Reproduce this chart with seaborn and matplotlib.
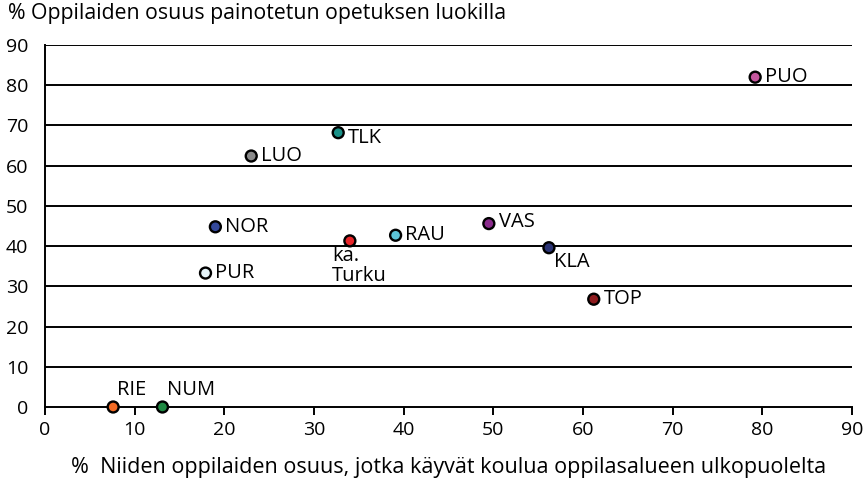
import matplotlib
matplotlib.use("Agg")
import matplotlib.pyplot as plt
import seaborn as sns
import pandas as pd

labels = ["PUO", "TLK", "LUO", "NOR", "ka.\nTurku", "RAU", "PUR", "VAS", "KLA", "TOP", "RIE", "NUM"]
x_vals = [79.2, 32.7, 23.0, 19.0, 34.0, 39.1, 17.9, 49.5, 56.2, 61.2, 7.6, 13.1]
y_vals = [82.0, 68.2, 62.4, 44.8, 41.3, 42.7, 33.3, 45.6, 39.6, 26.8, 0.0, 0.0]
colors = ["#c4579e", "#1a9188", "#8a8a8a", "#34499c", "#e8262a", "#5cc3d6",
          "#e4f3f8", "#8a2b8c", "#2b3475", "#8e1b1e", "#f26a24", "#1f8a43"]
# label offsets (points) and alignment
offsets = [(7, 0, "left", "center"), (7, -3.5, "left", "center"), (7, 0, "left", "center"),
           (7, 0, "left", "center"), (-13, -4, "left", "top"), (7, 0, "left", "center"),
           (7, 0, "left", "center"), (7, 1.5, "left", "center"), (4, -3, "left", "top"),
           (7, 0, "left", "center"), (3, 5, "left", "bottom"), (3, 5, "left", "bottom")]

xticks = list(range(0, 91, 10))
yticks = list(range(0, 91, 10))

df = pd.DataFrame({"x": x_vals, "y": y_vals, "label": labels})

sns.set_theme(style="white")
plt.rcParams["font.family"] = ["Open Sans", "DejaVu Sans"]

W, H = 863, 484
fig = plt.figure(figsize=(W / 100, H / 100), dpi=100)
ax = fig.add_axes([45 / W, 1 - 407 / H, (852 - 45) / W, (407 - 45) / H])

for yt in yticks[1:]:
    ax.axhline(yt, color="black", lw=1.4, zorder=1)

sns.scatterplot(data=df, x="x", y="y", hue="label", palette=dict(zip(labels, colors)),
                s=62, edgecolor="black", linewidth=1.7, legend=False, ax=ax, zorder=3, clip_on=False)

for lab, xv, yv, (dx, dy, ha, va) in zip(labels, x_vals, y_vals, offsets):
    ax.annotate(lab, (xv, yv), xytext=(dx, dy), textcoords="offset points",
                ha=ha, va=va, fontsize=14.5, color="black", linespacing=1.0)

ax.set_xlim(0, 90)
ax.set_ylim(0, 90)
ax.set_xticks(xticks)
ax.set_yticks(yticks)
ax.tick_params(axis="x", labelsize=14, colors="black", direction="out", length=6, width=1.4,
               bottom=True, pad=4)
ax.tick_params(axis="y", labelsize=14, colors="black", left=False, pad=6)
for side in ["top", "right"]:
    ax.spines[side].set_visible(False)
for side in ["left", "bottom"]:
    ax.spines[side].set_color("black")
    ax.spines[side].set_linewidth(1.4)

ax.set_xlabel("%  Niiden oppilaiden osuus, jotka käyvät koulua oppilasalueen ulkopuolelta",
              fontsize=15.5, color="black", labelpad=13)
ax.set_ylabel("")
fig.text(8 / W, 1 - 14 / H, "% Oppilaiden osuus painotetun opetuksen luokilla",
         fontsize=15.3, color="black", ha="left", va="center")

fig.savefig("out.png", dpi=100)
